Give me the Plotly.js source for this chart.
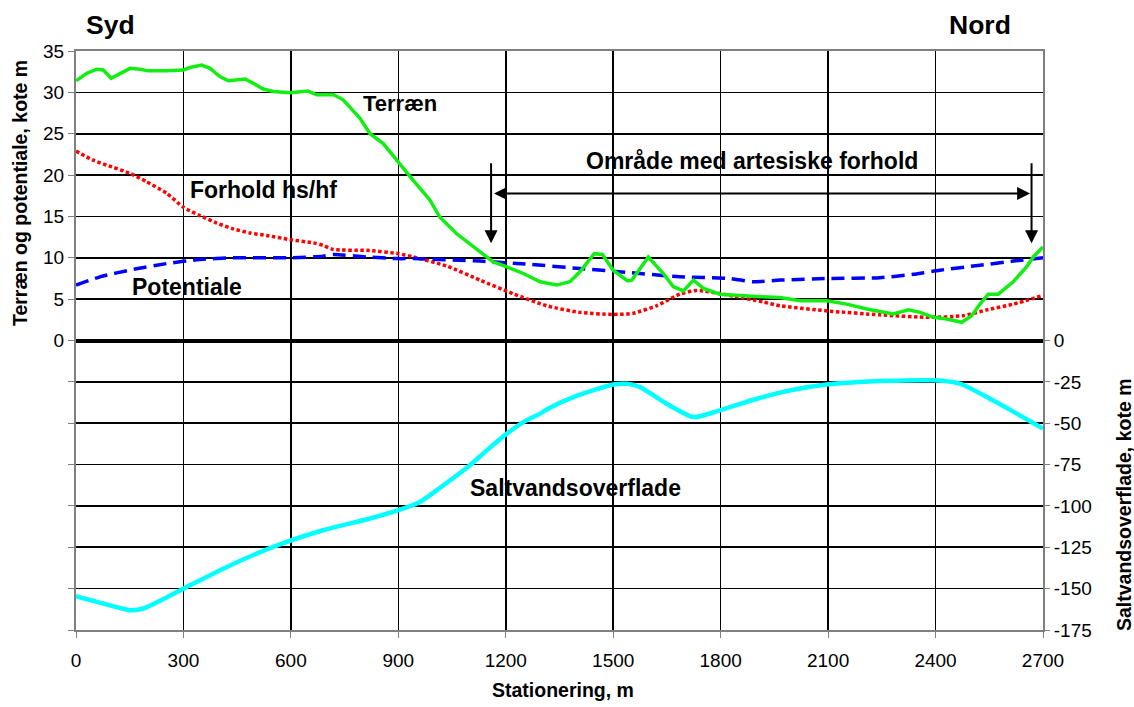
<!DOCTYPE html>
<html>
<head>
<meta charset="utf-8">
<script src="https://cdn.plot.ly/plotly-3.0.1.min.js"></script>
<style>
html,body{margin:0;padding:0;background:#fff;}
#chart{width:1134px;height:707px;}
#chart .gridlayer path, #chart .zerolinelayer path, #chart .xtick, #chart .ytick { shape-rendering: crispEdges; }
</style>
</head>
<body>
<div id="chart"></div>
<script>
// Terræn (left axis)
const terrainX = [0,30,58,76,98,123,151,179,202,253,299,318,351,374,402,425,472,495,523,551,597,648,672,718,746,793,821,858,895,941,988,1016,1063,1100,1165,1203,1249,1296,1342,1379,1407,1447,1470,1500,1540,1552,1598,1640,1668,1696,1724,1752,1798,1910,1966,2021,2096,2152,2208,2282,2324,2357,2394,2431,2473,2501,2524,2547,2575,2617,2654,2673,2700];
const terrainY = [31.4,32.3,32.8,32.7,31.7,32.3,32.9,32.8,32.6,32.6,32.7,33.0,33.3,32.9,31.9,31.4,31.6,31.1,30.4,30.1,29.95,30.15,29.7,29.75,29.1,26.85,25.0,23.8,21.8,19.4,17.0,14.9,12.9,11.7,9.5,8.9,8.1,7.1,6.7,7.1,8.3,10.5,10.4,8.5,7.2,7.3,10.1,8.1,6.5,6.0,7.3,6.3,5.6,5.3,5.2,4.8,4.8,4.4,3.8,3.2,3.7,3.4,2.8,2.6,2.2,3.0,4.4,5.6,5.6,7.1,8.9,10.1,11.3];

// Potentiale (left axis)
const potX = [0,67,160,253,346,439,597,690,718,812,900,942,1128,1268,1407,1547,1686,1826,1891,1966,2105,2245,2338,2412,2524,2617,2700];
const potY = [6.7,7.7,8.6,9.3,9.8,10.0,10.0,10.2,10.4,10.1,9.9,9.9,9.6,9.2,8.7,8.2,7.7,7.5,7.1,7.3,7.5,7.6,8.0,8.5,9.1,9.6,10.0];

// Forhold hs/hf (left axis)
const forX = [0,48,86,151,197,253,300,346,393,439,486,532,597,663,690,718,812,900,942,1035,1128,1221,1314,1407,1500,1556,1621,1686,1733,1826,1919,1966,2105,2245,2384,2477,2543,2617,2700];
const forY = [22.9,21.8,21.2,20.2,19.2,17.8,16.1,15.1,14.2,13.5,13.0,12.7,12.2,11.8,11.5,11.0,10.9,10.5,10.1,9.0,7.3,5.65,4.2,3.4,3.15,3.3,4.2,5.6,6.05,5.45,4.65,4.2,3.55,3.1,2.8,3.0,3.7,4.4,5.45];

// Saltvandsoverflade (right axis)
const saltX = [0,76,151,188,300,430,560,690,821,900,960,1026,1100,1147,1203,1249,1296,1323,1389,1500,1538,1575,1649,1724,1798,1901,2003,2096,2226,2394,2468,2552,2627,2700];
const saltY = [-154.5,-159,-163,-162,-150,-136,-124,-114.7,-107.6,-102.6,-97.6,-87.5,-75.4,-66.4,-56.3,-49.3,-44.2,-40.6,-34.2,-26.6,-26.2,-28.2,-38.2,-46.3,-42.2,-35.2,-29.8,-26.6,-24.6,-24.1,-26.1,-35.2,-44.2,-53.3];

// Ticks
const xTicks = [0,300,600,900,1200,1500,1800,2100,2400,2700];
const leftTicks = [-35,-30,-25,-20,-15,-10,-5,0,5,10,15,20,25,30,35];
const leftTickText = ['','','','','','','','0','5','10','15','20','25','30','35'];
const rightTicks = [0,-25,-50,-75,-100,-125,-150,-175];

// Arrow positions (data units)
const arrowLeftX = 1159, arrowRightX = 2668;
const arrowTopY = 21.6, arrowTipY = 11.75, arrowHY = 17.76;

const FONT = 'Liberation Sans, Arial, sans-serif';

const traces = [
  {x: saltX, y: saltY, yaxis: 'y2', mode: 'lines', line: {color: '#00ffff', width: 4.5, shape: 'spline', smoothing: 0.6}},
  {x: forX, y: forY, mode: 'lines', line: {color: '#ff0000', width: 3.5, dash: '3.5px,2.5px', shape: 'spline', smoothing: 0.6}},
  {x: potX, y: potY, mode: 'lines', line: {color: '#0000ff', width: 3.5, dash: '13px,7px', shape: 'spline', smoothing: 0.6}},
  {x: terrainX, y: terrainY, mode: 'lines', line: {color: '#11ee11', width: 3.5}}
];

function lbl(text, x, y, size, extra) {
  return Object.assign({text: '<b>' + text + '</b>', xref: 'paper', yref: 'paper', x: x, y: y,
    xanchor: 'center', yanchor: 'middle', showarrow: false,
    font: {family: FONT, size: size, color: '#000'}}, extra || {});
}

const annotations = [
  lbl('Syd', 0.0352, 1.045, 26.5),
  lbl('Nord', 0.935, 1.045, 26.5),
  lbl('Terræn', 0.335, 0.9085, 22),
  lbl('Forhold hs/hf', 0.1944, 0.760, 23),
  lbl('Potentiale', 0.1148, 0.5924, 23),
  lbl('Område med artesiske forhold', 0.699, 0.810, 23),
  lbl('Saltvandsoverflade', 0.517, 0.2453, 23),
  lbl('Terræn og potentiale, kote m', -0.0579, 0.7547, 19.5, {textangle: -90}),
  lbl('Saltvandsoverflade, kote m', 1.0838, 0.2159, 19.5, {textangle: -90}),
  lbl('Stationering, m', 0.5036, -0.1036, 19.5),
  // horizontal double arrow
  {x: arrowRightX - 4, y: arrowHY, ax: arrowLeftX + 4, ay: arrowHY, xref: 'x', yref: 'y', axref: 'x', ayref: 'y',
   showarrow: true, arrowhead: 2, startarrowhead: 2, arrowside: 'end+start', arrowsize: 1.3, arrowwidth: 2, arrowcolor: '#000', text: ''},
  // vertical arrows
  {x: arrowLeftX, y: arrowTipY, ax: arrowLeftX, ay: arrowTopY, xref: 'x', yref: 'y', axref: 'x', ayref: 'y',
   showarrow: true, arrowhead: 2, arrowsize: 1.3, arrowwidth: 2, arrowcolor: '#000', text: ''},
  {x: arrowRightX, y: arrowTipY, ax: arrowRightX, ay: arrowTopY, xref: 'x', yref: 'y', axref: 'x', ayref: 'y',
   showarrow: true, arrowhead: 2, arrowsize: 1.3, arrowwidth: 2, arrowcolor: '#000', text: ''}
];

const layout = {
  width: 1134, height: 707,
  margin: {l: 76, r: 91, t: 51, b: 77},
  paper_bgcolor: '#fff', plot_bgcolor: '#fff',
  showlegend: false,
  font: {family: FONT, color: '#000'},
  xaxis: {range: [0, 2700], tickvals: xTicks, ticktext: xTicks.map(String),
    showgrid: true, gridcolor: '#000', gridwidth: 1.6, zeroline: false,
    showline: true, linecolor: '#808080', linewidth: 2, mirror: true,
    ticks: 'outside', ticklen: 6, tickcolor: '#808080', ticklabelstandoff: 6,
    tickfont: {family: FONT, size: 19, color: '#000'}, fixedrange: true},
  yaxis: {range: [-35, 35], tickvals: leftTicks, ticktext: leftTickText,
    showgrid: true, gridcolor: '#000', gridwidth: 1.6,
    zeroline: true, zerolinecolor: '#000', zerolinewidth: 4,
    showline: true, linecolor: '#808080', linewidth: 2, mirror: true,
    ticks: 'outside', ticklen: 6, tickcolor: '#808080',
    tickfont: {family: FONT, size: 19, color: '#000'}, fixedrange: true},
  yaxis2: {range: [-175, 175], overlaying: 'y', side: 'right', tickvals: rightTicks, ticktext: rightTicks.map(String),
    showgrid: false, zeroline: false, showline: false,
    ticks: 'outside', ticklen: 6, tickcolor: '#808080',
    tickfont: {family: FONT, size: 19, color: '#000'}, fixedrange: true},
  annotations: annotations
};

Plotly.newPlot('chart', traces, layout, {staticPlot: true, displayModeBar: false});
</script>
</body>
</html>
